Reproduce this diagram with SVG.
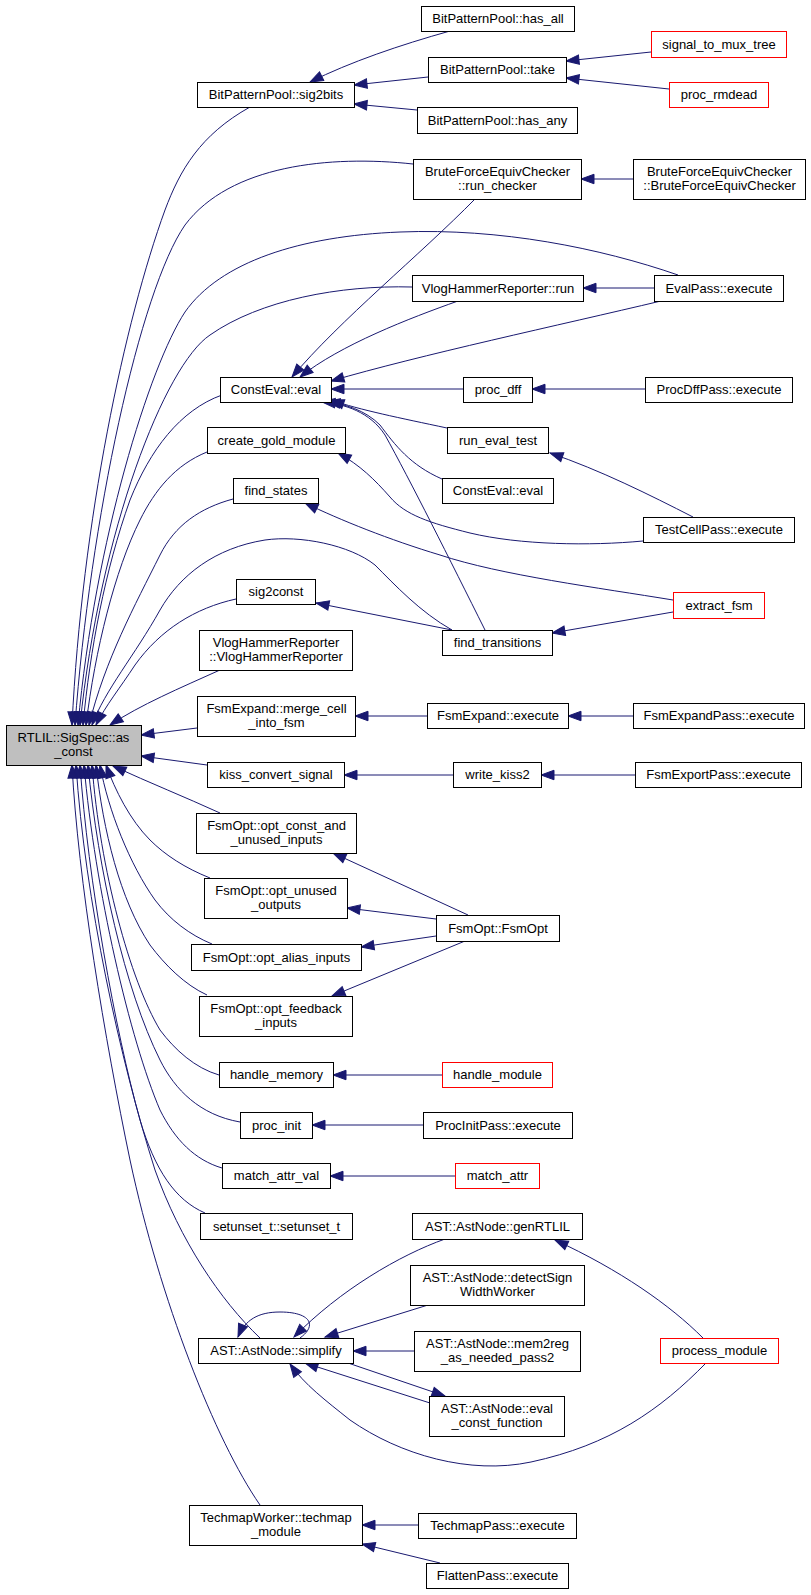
<svg xmlns="http://www.w3.org/2000/svg" width="811" height="1595" viewBox="0 0 811 1595">
<style>
.n rect{fill:#fff;stroke:#000;stroke-width:1}
.n.r rect{stroke:#f00}
.n.g rect{fill:#bfbfbf}
text{font-family:"Liberation Sans",Arial,Helvetica,sans-serif;font-size:13px;text-anchor:middle;fill:#000}
#edges path{fill:none;stroke:#191970;stroke-width:1;marker-end:url(#ah)}
</style>
<defs>
<marker id="ah" markerUnits="userSpaceOnUse" markerWidth="16" markerHeight="12" refX="13" refY="4.75" orient="auto" overflow="visible">
<path d="M0,0 L13,4.75 L0,9.5 z" fill="#191970" stroke="#191970" stroke-width="1"/>
</marker>
</defs>
<rect width="811" height="1595" fill="#fff"/>
<g id="edges">
<path d="M250,107 C200,135 180,170 165,210 C125,320 82,520 72,725"/>
<path d="M413,164 C330,155 230,165 185,225 C140,290 90,520 75,725"/>
<path d="M678,275 C600,248 500,228 400,232 C300,236 220,262 185,312 C150,365 95,540 78,725"/>
<path d="M412,287 C340,285 260,300 210,335 C165,365 100,530 80,725"/>
<path d="M222,395 C180,410 150,450 130,500 C105,570 90,650 83,725"/>
<path d="M207,452 C175,465 155,490 140,520 C115,570 95,650 86,725"/>
<path d="M233,499 C200,508 175,525 160,555 C135,605 105,660 89,725"/>
<path d="M452,630 C420,612 395,585 375,565 C350,545 300,535 265,540 C215,548 180,575 160,610 C135,655 105,690 92,725"/>
<path d="M236,599 C195,608 160,630 135,665 C120,688 106,705 96,725"/>
<path d="M220,670 C180,688 140,705 110,725"/>
<path d="M197,728 L141,735"/>
<path d="M207,765 L141,756"/>
<path d="M220,813 C185,797 150,783 113,766"/>
<path d="M210,878 C185,868 165,855 150,840 C130,820 115,790 106,765"/>
<path d="M212,944 C190,935 170,920 155,900 C130,865 108,810 100,765"/>
<path d="M207,995 C185,985 165,965 150,945 C120,900 103,830 96,765"/>
<path d="M219,1075 C195,1068 175,1050 160,1030 C130,980 100,870 92,765"/>
<path d="M240,1122 C200,1115 175,1090 160,1060 C125,990 98,870 88,765"/>
<path d="M222,1168 C195,1160 175,1140 160,1110 C130,1040 95,890 84,765"/>
<path d="M205,1213 C175,1200 155,1170 140,1120 C115,1030 88,880 80,765"/>
<path d="M260,1338 C220,1300 180,1240 155,1170 C120,1060 85,900 76,765"/>
<path d="M260,1505 C215,1440 160,1300 130,1160 C105,1040 78,880 72,765"/>
<path d="M450,31 C400,45 350,62 310,82"/>
<path d="M428,77 L354,85"/>
<path d="M417,110 L354,104"/>
<path d="M651,52 L566,61"/>
<path d="M669,89 L566,78"/>
<path d="M633,179 L581,179"/>
<path d="M654,288 L583,288"/>
<path d="M475,199 C420,255 340,320 292,377"/>
<path d="M458,301 C410,318 340,345 300,377"/>
<path d="M661,301 C560,325 420,355 331,381"/>
<path d="M463,389 L331,389"/>
<path d="M447,428 C400,418 360,410 331,400"/>
<path d="M442,479 C410,465 395,445 380,425 C365,410 345,404 327,402"/>
<path d="M485,630 C450,560 410,480 385,435 C370,412 345,404 322,402"/>
<path d="M645,389 L532,389"/>
<path d="M693,517 C650,495 600,470 550,453"/>
<path d="M643,541 C590,546 520,545 470,533 C430,523 405,515 390,497 C375,480 360,465 338,453"/>
<path d="M673,600 C600,588 500,575 440,555 C390,540 340,520 305,503"/>
<path d="M452,630 L316,603"/>
<path d="M673,612 L552,633"/>
<path d="M427,716 L355,716"/>
<path d="M633,716 L568,716"/>
<path d="M453,775 L344,775"/>
<path d="M635,775 L541,775"/>
<path d="M468,915 L333,853"/>
<path d="M436,919 L347,908"/>
<path d="M436,936 L361,947"/>
<path d="M465,941 L332,996"/>
<path d="M442,1075 L333,1075"/>
<path d="M423,1125 L312,1125"/>
<path d="M455,1176 L330,1176"/>
<path d="M300,1338 C318,1325 310,1312 280,1312 C258,1312 245,1320 238,1337"/>
<path d="M445,1239 C400,1255 340,1290 294,1337"/>
<path d="M428,1305 L325,1337"/>
<path d="M414,1351 L353,1351"/>
<path d="M430,1403 L305,1363"/>
<path d="M348,1363 L445,1396"/>
<path d="M706,1363 C660,1410 610,1445 531,1462 C470,1475 400,1455 350,1420 C325,1400 305,1385 290,1364"/>
<path d="M703,1338 C670,1305 620,1270 555,1240"/>
<path d="M418,1525 L362,1525"/>
<path d="M440,1563 L362,1544"/>
</g>
<g id="n_root" class="n g"><rect x="6.5" y="725.5" width="135" height="40"/><text x="73.5" y="742">RTLIL::SigSpec::as</text><text x="73.5" y="756">_const</text></g>
<g id="n_sig2bits" class="n"><rect x="197.5" y="82.5" width="157" height="25"/><text x="276" y="99">BitPatternPool::sig2bits</text></g>
<g id="n_has_all" class="n"><rect x="421.5" y="6.5" width="153" height="25"/><text x="498" y="23">BitPatternPool::has_all</text></g>
<g id="n_take" class="n"><rect x="428.5" y="57.5" width="138" height="25"/><text x="497.5" y="74">BitPatternPool::take</text></g>
<g id="n_has_any" class="n"><rect x="417.5" y="107.5" width="160" height="26"/><text x="497.5" y="124.5">BitPatternPool::has_any</text></g>
<g id="n_signal_to_mux_tree" class="n r"><rect x="651.5" y="31.5" width="135" height="26"/><text x="719" y="48.5">signal_to_mux_tree</text></g>
<g id="n_proc_rmdead" class="n r"><rect x="669.5" y="82.5" width="99" height="25"/><text x="719" y="99">proc_rmdead</text></g>
<g id="n_run_checker" class="n"><rect x="413.5" y="159.5" width="168" height="40"/><text x="497.5" y="176">BruteForceEquivChecker</text><text x="497.5" y="190">::run_checker</text></g>
<g id="n_bfec" class="n"><rect x="633.5" y="159.5" width="172" height="40"/><text x="719.5" y="176">BruteForceEquivChecker</text><text x="719.5" y="190">::BruteForceEquivChecker</text></g>
<g id="n_vlog_run" class="n"><rect x="412.5" y="275.5" width="171" height="26"/><text x="498" y="292.5">VlogHammerReporter::run</text></g>
<g id="n_evalpass" class="n"><rect x="654.5" y="275.5" width="129" height="26"/><text x="719" y="292.5">EvalPass::execute</text></g>
<g id="n_consteval" class="n"><rect x="220.5" y="377.5" width="111" height="25"/><text x="276" y="394">ConstEval::eval</text></g>
<g id="n_proc_dff" class="n"><rect x="463.5" y="377.5" width="69" height="25"/><text x="498" y="394">proc_dff</text></g>
<g id="n_procdffpass" class="n"><rect x="645.5" y="377.5" width="147" height="25"/><text x="719" y="394">ProcDffPass::execute</text></g>
<g id="n_create_gold" class="n"><rect x="207.5" y="427.5" width="138" height="26"/><text x="276.5" y="444.5">create_gold_module</text></g>
<g id="n_run_eval_test" class="n"><rect x="447.5" y="427.5" width="101" height="26"/><text x="498" y="444.5">run_eval_test</text></g>
<g id="n_find_states" class="n"><rect x="233.5" y="478.5" width="85" height="25"/><text x="276" y="495">find_states</text></g>
<g id="n_consteval2" class="n"><rect x="442.5" y="478.5" width="111" height="25"/><text x="498" y="495">ConstEval::eval</text></g>
<g id="n_testcellpass" class="n"><rect x="643.5" y="517.5" width="151" height="25"/><text x="719" y="534">TestCellPass::execute</text></g>
<g id="n_sig2const" class="n"><rect x="236.5" y="579.5" width="79" height="25"/><text x="276" y="596">sig2const</text></g>
<g id="n_extract_fsm" class="n r"><rect x="673.5" y="592.5" width="91" height="26"/><text x="719" y="609.5">extract_fsm</text></g>
<g id="n_vlog_ctor" class="n"><rect x="199.5" y="630.5" width="153" height="40"/><text x="276" y="647">VlogHammerReporter</text><text x="276" y="661">::VlogHammerReporter</text></g>
<g id="n_find_transitions" class="n"><rect x="442.5" y="630.5" width="110" height="25"/><text x="497.5" y="647">find_transitions</text></g>
<g id="n_merge_cell" class="n"><rect x="197.5" y="696.5" width="158" height="40"/><text x="276.5" y="713">FsmExpand::merge_cell</text><text x="276.5" y="727">_into_fsm</text></g>
<g id="n_fsmexpand_exec" class="n"><rect x="427.5" y="703.5" width="141" height="25"/><text x="498" y="720">FsmExpand::execute</text></g>
<g id="n_fsmexpandpass" class="n"><rect x="633.5" y="703.5" width="171" height="25"/><text x="719" y="720">FsmExpandPass::execute</text></g>
<g id="n_kiss" class="n"><rect x="207.5" y="762.5" width="137" height="25"/><text x="276" y="779">kiss_convert_signal</text></g>
<g id="n_write_kiss2" class="n"><rect x="453.5" y="762.5" width="88" height="25"/><text x="497.5" y="779">write_kiss2</text></g>
<g id="n_fsmexportpass" class="n"><rect x="635.5" y="762.5" width="166" height="25"/><text x="718.5" y="779">FsmExportPass::execute</text></g>
<g id="n_opt_const" class="n"><rect x="196.5" y="813.5" width="160" height="40"/><text x="276.5" y="830">FsmOpt::opt_const_and</text><text x="276.5" y="844">_unused_inputs</text></g>
<g id="n_opt_unused" class="n"><rect x="204.5" y="878.5" width="143" height="40"/><text x="276" y="895">FsmOpt::opt_unused</text><text x="276" y="909">_outputs</text></g>
<g id="n_opt_alias" class="n"><rect x="191.5" y="944.5" width="170" height="26"/><text x="276.5" y="961.5">FsmOpt::opt_alias_inputs</text></g>
<g id="n_opt_feedback" class="n"><rect x="199.5" y="996.5" width="153" height="40"/><text x="276" y="1013">FsmOpt::opt_feedback</text><text x="276" y="1027">_inputs</text></g>
<g id="n_fsmopt" class="n"><rect x="436.5" y="915.5" width="123" height="26"/><text x="498" y="932.5">FsmOpt::FsmOpt</text></g>
<g id="n_handle_memory" class="n"><rect x="219.5" y="1062.5" width="114" height="25"/><text x="276.5" y="1079">handle_memory</text></g>
<g id="n_handle_module" class="n r"><rect x="442.5" y="1062.5" width="110" height="25"/><text x="497.5" y="1079">handle_module</text></g>
<g id="n_proc_init" class="n"><rect x="240.5" y="1112.5" width="72" height="26"/><text x="276.5" y="1129.5">proc_init</text></g>
<g id="n_procinitpass" class="n"><rect x="423.5" y="1112.5" width="149" height="26"/><text x="498" y="1129.5">ProcInitPass::execute</text></g>
<g id="n_match_attr_val" class="n"><rect x="222.5" y="1163.5" width="108" height="25"/><text x="276.5" y="1180">match_attr_val</text></g>
<g id="n_match_attr" class="n r"><rect x="455.5" y="1163.5" width="84" height="25"/><text x="497.5" y="1180">match_attr</text></g>
<g id="n_setunset" class="n"><rect x="200.5" y="1213.5" width="152" height="26"/><text x="276.5" y="1230.5">setunset_t::setunset_t</text></g>
<g id="n_genrtlil" class="n"><rect x="412.5" y="1213.5" width="170" height="26"/><text x="497.5" y="1230.5">AST::AstNode::genRTLIL</text></g>
<g id="n_detectsign" class="n"><rect x="410.5" y="1265.5" width="174" height="40"/><text x="497.5" y="1282">AST::AstNode::detectSign</text><text x="497.5" y="1296">WidthWorker</text></g>
<g id="n_simplify" class="n"><rect x="198.5" y="1338.5" width="155" height="25"/><text x="276" y="1355">AST::AstNode::simplify</text></g>
<g id="n_mem2reg" class="n"><rect x="414.5" y="1331.5" width="166" height="40"/><text x="497.5" y="1348">AST::AstNode::mem2reg</text><text x="497.5" y="1362">_as_needed_pass2</text></g>
<g id="n_eval_const" class="n"><rect x="429.5" y="1396.5" width="135" height="40"/><text x="497" y="1413">AST::AstNode::eval</text><text x="497" y="1427">_const_function</text></g>
<g id="n_process_module" class="n r"><rect x="660.5" y="1338.5" width="118" height="25"/><text x="719.5" y="1355">process_module</text></g>
<g id="n_techmap" class="n"><rect x="189.5" y="1505.5" width="173" height="40"/><text x="276" y="1522">TechmapWorker::techmap</text><text x="276" y="1536">_module</text></g>
<g id="n_techmappass" class="n"><rect x="418.5" y="1513.5" width="158" height="25"/><text x="497.5" y="1530">TechmapPass::execute</text></g>
<g id="n_flattenpass" class="n"><rect x="426.5" y="1563.5" width="142" height="25"/><text x="497.5" y="1580">FlattenPass::execute</text></g>
</svg>
